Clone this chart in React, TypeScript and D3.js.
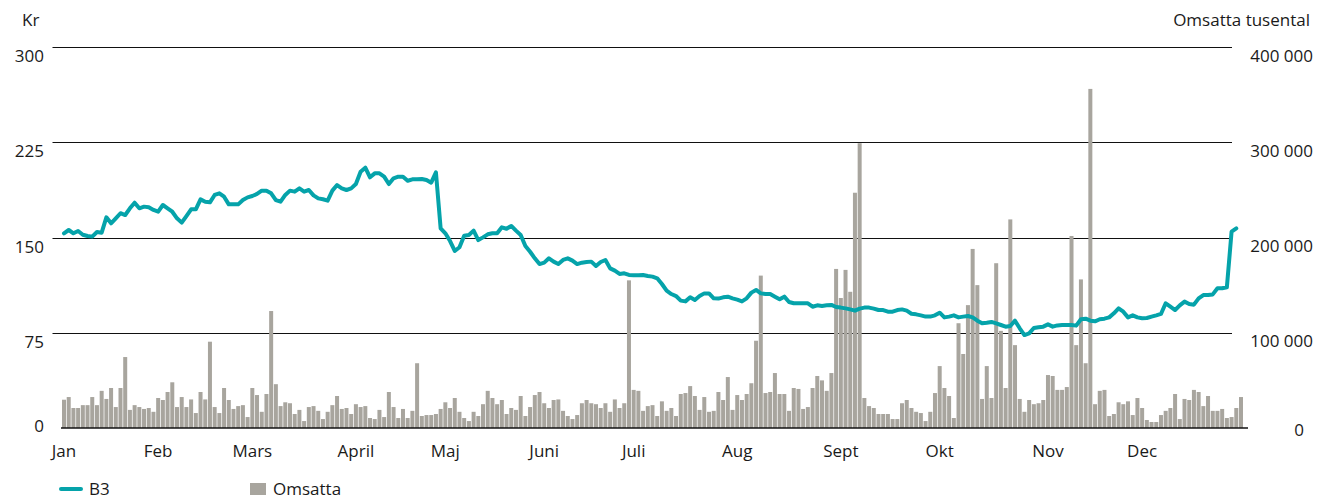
import React from "react";
import * as d3 from "d3";

// Month labels and number of trading days in each month
const monthLabels = ["Jan", "Feb", "Mars", "April", "Maj", "Juni", "Juli", "Aug", "Sept", "Okt", "Nov", "Dec"];
const monthDays = [20, 20, 22, 19, 21, 19, 22, 22, 21, 23, 20, 22];

// B3 share price (Kr), one value per trading day
const priceB3 = [
  153.3, 155.9, 153.3, 155.1, 152.2, 151.2, 150.7, 154.3, 153.8, 165.9,
  161.2, 165.1, 169.1, 167.7, 173, 177.4, 173, 174.3, 173.8, 171.7,
  170.3, 175.6, 173, 170.3, 165.1, 161.7, 166.9, 172.2, 172.2, 180,
  178.2, 177.7, 183.5, 184.8, 182.1, 176.1, 176.1, 176.1, 179.5, 181.6,
  182.7, 184.3, 186.9, 186.9, 184.8, 179.5, 178.2, 183.5, 186.9, 186.1,
  188.7, 186.1, 187.4, 183.2, 180.8, 180.1, 179, 186.9, 191.3, 188.7,
  187.4, 188.7, 192.1, 201.8, 205, 197.4, 200.5, 200.5, 197.9, 192.1,
  196.6, 197.9, 197.9, 194.7, 195.8, 195.8, 196.1, 195.3, 193.2, 201.3,
  157.2, 153.3, 147.2, 139.4, 142.3, 151.4, 152, 155.4, 148, 150.1,
  152.5, 153.3, 153.3, 158, 156.9, 159.1, 155.4, 152, 143.3, 138.8,
  133.6, 129.1, 130.2, 133.6, 131, 129.1, 132.3, 133.6, 131.8, 129.1,
  130.2, 130.7, 131, 127.6, 130.7, 132.3, 125.7, 123.9, 121.3, 121.8,
  120.5, 120.2, 120.2, 120.5, 119.7, 119.2, 117.9, 113.4, 108.1, 105.5,
  103.9, 100.3, 99.7, 102.9, 100.8, 103.9, 106, 106, 102.1, 101.9,
  102.9, 103.4, 102.1, 101.1, 99.7, 102.1, 106.6, 108.7, 106, 105.5,
  105.5, 103.4, 101.3, 103.4, 99.2, 98.2, 98.2, 98.2, 98.2, 95.5,
  96.6, 96.1, 96.6, 96.9, 95.3, 94.8, 94.2, 93.4, 92.4, 94,
  94.8, 94.8, 94, 92.9, 92.9, 91.6, 91.6, 92.9, 93.4, 92.4,
  90, 89.5, 88.7, 87.7, 87.7, 88.7, 90.8, 87.1, 87.7, 88.7,
  87.1, 87.7, 88.2, 87.1, 84.5, 82.4, 82.9, 83.5, 82.4, 81.1,
  79.8, 80.3, 84.5, 78.5, 73.2, 74.5, 78.7, 79.3, 79.8, 81.6,
  79.8, 80.8, 81.1, 81.1, 81.1, 80.6, 85.6, 86.1, 84.5, 84,
  85.6, 86.1, 87.1, 90.3, 94.2, 91.6, 87.1, 88.7, 87.1, 86.4,
  86.6, 87.7, 88.7, 89.8, 98.2, 95.5, 92.9, 96.6, 99.5, 97.6,
  97.1, 102.1, 104.7, 104.7, 105.2, 110, 110, 110.8, 154.6, 157.2,
];

// Omsatta (tusental), in thousands of axis units, one value per trading day
const turnover = [
  29.7, 32.5, 21, 21, 24, 24, 32.5, 24, 39, 30.5,
  42, 22, 42, 74.5, 19, 24, 22, 20, 21, 17,
  31.5, 29.4, 37.8, 48, 22, 32.5, 22, 30, 15.7, 37.8,
  30, 90.6, 22, 15.7, 42, 29.4, 20, 23, 24, 11.5,
  42, 34.6, 17, 35.7, 122.8, 46, 23, 27, 26, 14.7,
  19, 7.3, 22, 23, 18, 9.4, 17, 24, 33.6, 20,
  21, 14.7, 25, 22, 23, 10.5, 9.4, 19, 11.5, 37.8,
  22, 10.5, 20, 10.5, 18, 68, 12.6, 13.6, 13.6, 14.7,
  20, 27, 21, 31.5, 17, 10.5, 7.3, 17, 12.6, 25,
  39, 31.5, 25, 29.4, 14.7, 21, 19, 33.6, 12.6, 22,
  34.6, 37.8, 26, 21, 29.4, 30, 18, 12.6, 9.4, 13.6,
  26, 29.4, 26, 25, 21, 26, 17, 30, 21, 26,
  155, 40, 39, 18, 23, 24, 12.6, 28, 18, 21,
  12.6, 35.7, 36.7, 44, 33.6, 19, 32.5, 17, 18, 37.8,
  29.4, 53.5, 19, 34.6, 29.4, 35.7, 47, 91.6, 160, 36.7,
  37.8, 57.7, 35.7, 35.7, 18, 42, 41, 20, 22, 42,
  54.6, 50, 39, 57.7, 167, 136.5, 166, 143, 247, 299,
  31.5, 23, 21, 14.7, 14.7, 14.7, 9.4, 9.4, 26, 29.4,
  21, 17, 15.7, 7.3, 17, 36.7, 65, 42, 33.6, 10.5,
  110, 77.7, 129, 188, 150, 30.5, 65, 31.5, 173, 102,
  42, 219, 87, 30.5, 17, 29.4, 25, 26, 29.4, 55.6,
  54.6, 40, 40, 43, 201.6, 87, 156, 68, 356, 25,
  39, 40, 12.6, 14.7, 27, 25, 28, 13.6, 31.5, 21,
  8.4, 6.3, 6.3, 13.6, 18, 21, 35.7, 9.4, 30.5, 29.4,
  40, 37.8, 23, 33.6, 18, 18, 20, 10.5, 11.5, 21,
  32.5,
];

const leftTicks = [0, 75, 150, 225, 300];
const rightTicks = [0, 100, 200, 300, 400];

const W = 1324;
const H = 499;
const FONT = "'Open Sans', 'Noto Sans', sans-serif";
const TEXT = "#1a1a1a";
const TEAL = "#05a3aa";
const GREY = "#a8a59e";

export default function App() {
  const n = turnover.length;
  const x = d3.scaleBand<number>().domain(d3.range(n)).range([62, 1243]).paddingInner(0.15).paddingOuter(0);
  const bw = x.bandwidth();
  const yL = d3.scaleLinear().domain([0, 300]).range([428, 47]);
  const yR = d3.scaleLinear().domain([0, 400]).range([428, 47]);

  const line = d3
    .line<number>()
    .x((_, i) => (x(i) as number) + bw / 2)
    .y((d) => yL(d));

  const monthStarts = monthDays.reduce<number[]>((acc, _, i) => {
    acc.push(i === 0 ? 0 : acc[i - 1] + monthDays[i - 1]);
    return acc;
  }, []);

  const fmtR = (v: number) => d3.format(",")(v * 1000).replace(/,/g, " ");

  return (
    <svg
      width={W}
      height={H}
      style={{ position: "absolute", left: 0, top: 0, display: "block", background: "#fff" }}
      fontFamily={FONT}
    >
      {/* axis titles */}
      <text x={22} y={26} fontSize={17} fill={TEXT}>Kr</text>
      <text x={1310} y={26} fontSize={17} fill={TEXT} textAnchor="end">Omsatta tusental</text>

      {/* gridlines */}
      {leftTicks.filter((t) => t > 0).map((t) => (
        <line key={t} x1={52.5} x2={1232} y1={Math.round(yL(t)) + 0.5} y2={Math.round(yL(t)) + 0.5} stroke="#111" strokeWidth={1} />
      ))}

      {/* left tick labels */}
      {leftTicks.map((t) => (
        <text key={t} x={44} y={t === 0 ? yL(t) + 4 : yL(t) + 15} fontSize={17} fill={TEXT} textAnchor="end">
          {t}
        </text>
      ))}
      {/* right tick labels */}
      {rightTicks.map((t) => (
        <text key={t} x={t === 0 ? 1304 : 1313} y={t === 0 ? yR(t) + 8 : yR(t) + 14.5} fontSize={17} fill={TEXT} textAnchor="end">
          {fmtR(t)}
        </text>
      ))}

      {/* bars */}
      {turnover.map((v, i) => (
        <rect key={i} x={x(i)} y={yR(v)} width={bw} height={yR(0) - yR(v)} fill={GREY} />
      ))}

      {/* baseline */}
      <line x1={61} x2={1248} y1={428} y2={428} stroke="#111" strokeWidth={1.6} />

      {/* B3 line */}
      <path d={line(priceB3) || ""} fill="none" stroke={TEAL} strokeWidth={4} strokeLinejoin="round" strokeLinecap="round" />

      {/* month labels */}
      {monthLabels.map((m, i) => (
        <text key={m} x={(x(monthStarts[i]) as number) + bw / 2} y={457} fontSize={17} fill={TEXT} textAnchor="middle">
          {m}
        </text>
      ))}

      {/* legend */}
      <line x1={61} x2={81} y1={489} y2={489} stroke={TEAL} strokeWidth={4} strokeLinecap="round" />
      <text x={89} y={495} fontSize={17} fill={TEXT}>B3</text>
      <rect x={250} y={483} width={16} height={12} fill={GREY} />
      <text x={273} y={495} fontSize={17} fill={TEXT}>Omsatta</text>
    </svg>
  );
}
